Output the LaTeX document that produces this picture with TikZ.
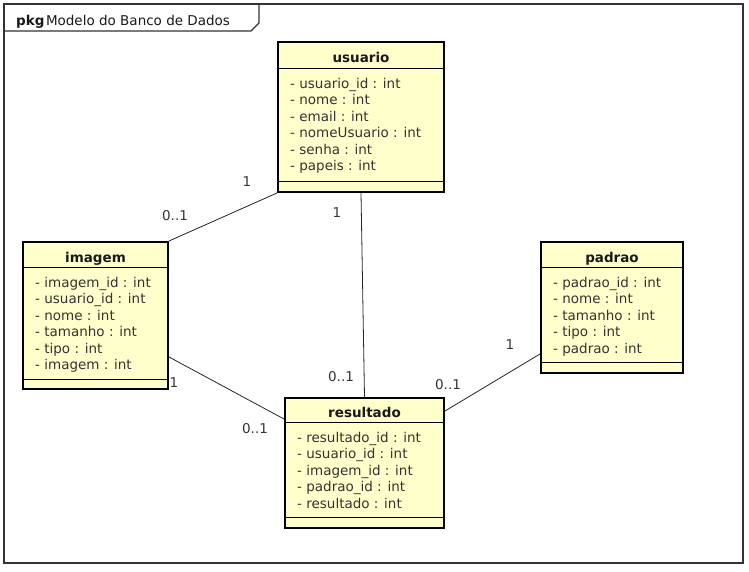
\documentclass[tikz,border=0pt]{standalone}
\usepackage{fontspec}
\setmainfont{DejaVu Sans}
\definecolor{umlyellow}{HTML}{FFFFCC}
\newcommand{\umlfont}{\fontsize{13.5}{16.4}\selectfont}
\begin{document}
\begin{tikzpicture}[x=1pt,y=-1pt,font=\umlfont,
  classbox/.style={draw, line width=2pt, fill=umlyellow, anchor=north west, inner sep=0pt},
  title/.style={anchor=base, inner sep=0pt, text=black!90, font=\umlfont\bfseries},
  attrs/.style={anchor=north west, align=left, inner sep=0pt, text=black!80},
  mult/.style={inner sep=0pt, text=black!80},
  assoc/.style={draw, line width=0.8pt, black!85}]
\useasboundingbox (0,0) rectangle (749,571);

% frame
\draw[line width=1.1pt, black!80] (4,4) rectangle (743,563);
\draw[line width=1.1pt, black!80] (4,31) -- (251,31) -- (259,23) -- (259,4);
\node[anchor=base west, inner sep=0pt, text=black!90] (pkg) at (16,25)
  {\textbf{pkg}\hspace{1.5pt}Modelo do Banco de Dados};

% usuario
\node[classbox, minimum width=166pt, minimum height=150pt] (usuario) at (277,41) {};
\draw[line width=1pt] ([yshift=-27pt]usuario.north west) -- ([yshift=-27pt]usuario.north east);
\draw[line width=1pt] ([yshift=12pt]usuario.south west) -- ([yshift=12pt]usuario.south east);
\node[title] (usuario-title) at ([yshift=-21.5pt]usuario.north) {usuario};
\node[attrs] (usuario-attrs) at ([xshift=13pt,yshift=-37pt]usuario.north west)
  {- usuario\_id : int\\- nome : int\\- email : int\\- nomeUsuario : int\\- senha : int\\- papeis : int};

% imagem
\node[classbox, minimum width=145pt, minimum height=147pt] (imagem) at (22,241) {};
\draw[line width=1pt] ([yshift=-26pt]imagem.north west) -- ([yshift=-26pt]imagem.north east);
\draw[line width=1pt] ([yshift=11pt]imagem.south west) -- ([yshift=11pt]imagem.south east);
\node[title] (imagem-title) at ([yshift=-21pt]imagem.north) {imagem};
\node[attrs] (imagem-attrs) at ([xshift=13pt,yshift=-36pt]imagem.north west)
  {- imagem\_id : int\\- usuario\_id : int\\- nome : int\\- tamanho : int\\- tipo : int\\- imagem : int};

% padrao
\node[classbox, minimum width=142pt, minimum height=131pt] (padrao) at (540,241) {};
\draw[line width=1pt] ([yshift=-26pt]padrao.north west) -- ([yshift=-26pt]padrao.north east);
\draw[line width=1pt] ([yshift=12pt]padrao.south west) -- ([yshift=12pt]padrao.south east);
\node[title] (padrao-title) at ([yshift=-21pt]padrao.north) {padrao};
\node[attrs] (padrao-attrs) at ([xshift=13pt,yshift=-36pt]padrao.north west)
  {- padrao\_id : int\\- nome : int\\- tamanho : int\\- tipo : int\\- padrao : int};

% resultado
\node[classbox, minimum width=159pt, minimum height=130pt] (resultado) at (284,397) {};
\draw[line width=1pt] ([yshift=-25pt]resultado.north west) -- ([yshift=-25pt]resultado.north east);
\draw[line width=1pt] ([yshift=12pt]resultado.south west) -- ([yshift=12pt]resultado.south east);
\node[title] (resultado-title) at ([yshift=-20.5pt]resultado.north) {resultado};
\node[attrs] (resultado-attrs) at ([xshift=13pt,yshift=-35pt]resultado.north west)
  {- resultado\_id : int\\- usuario\_id : int\\- imagem\_id : int\\- padrao\_id : int\\- resultado : int};

% associations
\path[assoc] (usuario.south west) -- (imagem.north east);
\path[assoc] (usuario.south) -- (resultado.north);
\path[assoc] ([yshift=33pt]imagem.south east) -- ([yshift=-22pt]resultado.north west);
\path[assoc] ([yshift=20pt]padrao.south west) -- ([yshift=-14pt]resultado.north east);

% multiplicities
\node[mult] (ui-1) at (247,182) {1};
\node[mult] (ui-2) at (175,216) {0..1};
\node[mult] (ur-1) at (337,213) {1};
\node[mult] (ur-2) at (341,377) {0..1};
\node[mult] (ir-1) at (174,383) {1};
\node[mult] (ir-2) at (255,429) {0..1};
\node[mult] (pr-1) at (510,345) {1};
\node[mult] (pr-2) at (448,385) {0..1};
\end{tikzpicture}
\end{document}
